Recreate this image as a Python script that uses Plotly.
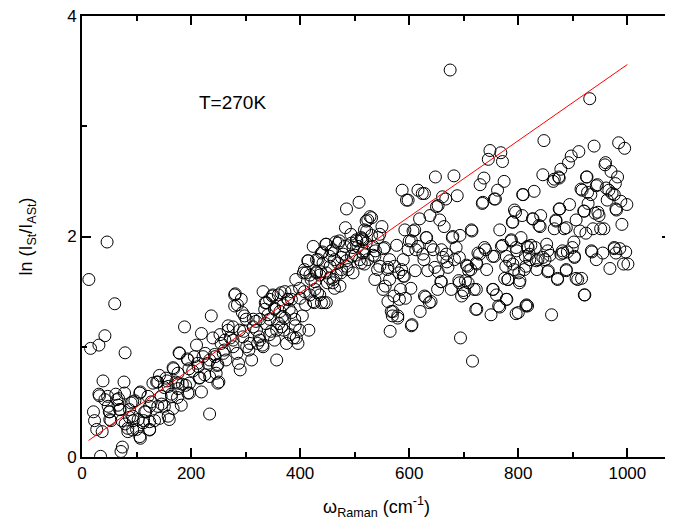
import plotly.graph_objects as go

# ln(I_St/I_ASt) vs Raman shift, T=270K as (omega, ln ratio)
pts_low = [
    (12.6, 1.61), (15.7, 0.985), (31, 1.015), (46, 1.95), (60, 1.39), (42, 1.10), (38.5, 0.69),
    (79, 0.945), (77, 0.68), (34, 0.006), (71.5, 0.05), (74, 0.09), (21, 0.41), (23, 0.33),
    (27, 0.25), (37, 0.23), (31, 0.57), (42, 0.52), (50, 0.41), (53, 0.33), (62, 0.57),
    (67, 0.53), (70, 0.43), (73, 0.33), (79, 0.30), (84, 0.23), (87, 0.36), (94, 0.33),
    (97, 0.51), (100, 0.25), (107, 0.17), (107, 0.59), (113, 0.33), (117, 0.41), (124, 0.25),
    (127, 0.50), (133, 0.33), (137, 0.68), (142, 0.74), (146, 0.48), (151, 0.63), (156, 0.69),
    (160, 0.34), (164, 0.57), (168, 0.80), (172, 0.68), (175, 0.54), (178, 0.945), (184, 0.66),
    (188, 1.18), (190, 0.65), (196, 0.80), (193, 0.89), (197, 0.58),
    (32, 0.555), (47, 0.55), (64, 0.52), (51, 0.41), (51, 0.34), (69, 0.43), (78, 0.58),
    (93, 0.50), (106, 0.58), (121, 0.55), (130, 0.67), (139, 0.68), (154, 0.715), (167, 0.81),
    (176, 0.76), (176, 0.67), (179, 0.94), (194, 0.88), (197, 0.67), (194, 0.58), (176, 0.62),
    (164, 0.55), (158, 0.64), (145, 0.55), (139, 0.46), (151, 0.46), (167, 0.44), (124, 0.46),
    (115, 0.41), (103, 0.34), (93, 0.37), (112, 0.31), (124, 0.32), (142, 0.35), (158, 0.37),
    (84, 0.26), (93, 0.245), (106, 0.185), (124, 0.245), (90, 0.49), (87, 0.43), (66, 0.47),
    (48, 0.46), (182, 0.47),
]

pts_mid = [
    (206, 0.91), (210, 1.015), (213, 0.82), (219, 1.12), (219, 0.59), (216, 0.72), (226, 0.94),
    (231, 0.85), (234, 0.39), (237, 1.28), (240, 1.08), (244, 0.91), (248, 0.83), (251, 0.68),
    (253, 1.11), (259, 0.94), (264, 0.88), (268, 1.19), (272, 1.08), (277, 1.00), (281, 1.48),
    (284, 0.94), (285, 1.38), (287, 0.85), (290, 0.79), (292, 1.43), (294, 1.31), (298, 1.28),
    (296, 1.14), (302, 1.00), (306, 0.97), (311, 0.88), (314, 1.18), (319, 1.23), (322, 1.03),
    (325, 1.09), (331, 1.015), (332, 1.50), (336, 1.40), (337, 1.21), (341, 1.29), (347, 1.14),
    (349, 1.46), (353, 1.34), (357, 0.88), (361, 1.21), (365, 1.49), (367, 1.27), (370, 1.15),
    (377, 1.43), (380, 1.34), (384, 1.43), (388, 1.08), (391, 1.19), (392, 1.61), (396, 1.03),
    (203, 0.78), (212, 0.85), (222, 0.91), (234, 0.88), (243, 0.93), (249, 0.84), (246, 0.76),
    (261, 0.97), (255, 1.03), (215, 0.715), (225, 0.745), (234, 0.73), (249, 0.67),
    (384, 1.50), (378, 1.43), (369, 1.38), (363, 1.32), (353, 1.35), (344, 1.43), (338, 1.40),
    (335, 1.34), (350, 1.47), (360, 1.47), (372, 1.50), (384, 1.31), (390, 1.25), (399, 1.15),
    (393, 1.08), (372, 1.26), (366, 1.18), (357, 1.15), (344, 1.25), (326, 1.25), (320, 1.15),
    (314, 1.25), (301, 1.25), (289, 1.15), (277, 1.18), (268, 1.15), (262, 1.06), (277, 1.06),
    (295, 1.09), (308, 1.03), (326, 1.06), (344, 1.11), (353, 1.06), (332, 1.00), (381, 1.11),
    (375, 1.03), (280, 1.47), (280, 1.37), (399, 1.53),
]

pts_band = [
    (400, 1.44), (404, 1.28), (406, 1.67), (410, 1.38), (414, 1.78), (416, 1.15), (420, 1.61),
    (424, 1.91), (426, 1.40), (430, 1.67), (432, 1.49), (433, 1.79), (438, 1.68), (441, 1.86),
    (444, 1.40), (447, 1.93), (450, 1.58), (455, 1.73), (457, 1.87), (461, 1.61), (465, 1.95),
    (469, 1.76), (472, 1.96), (475, 1.67), (479, 1.84), (483, 2.08), (485, 2.25), (488, 1.70),
    (493, 2.02), (497, 1.90),
    (415, 1.78), (408, 1.70), (411, 1.67), (418, 1.65), (430, 1.68), (427, 1.59), (436, 1.65),
    (448, 1.67), (454, 1.62), (460, 1.58), (466, 1.65), (476, 1.70), (485, 1.73), (497, 1.67),
    (473, 1.55), (463, 1.53), (408, 1.50), (418, 1.47), (424, 1.41), (439, 1.40), (448, 1.40),
    (436, 1.47), (427, 1.52), (470, 1.94), (482, 1.91), (494, 1.94), (448, 1.93), (460, 1.88),
    (439, 1.85), (430, 1.79), (442, 1.76), (454, 1.82), (463, 1.79), (476, 1.81), (485, 1.78),
    (494, 1.82),
    (501, 1.83), (504, 1.96), (508, 2.31), (512, 1.76), (514, 1.98), (518, 1.87), (522, 2.05),
    (524, 2.15), (528, 2.18), (531, 2.01), (534, 1.83), (538, 1.87), (542, 1.70), (546, 2.02),
    (550, 2.09), (553, 1.89), (521, 2.14), (503, 1.97), (515, 1.97), (506, 1.91), (515, 1.85),
    (509, 1.79), (518, 1.75), (531, 2.17), (518, 2.06), (512, 1.99), (521, 1.94), (534, 1.91),
    (543, 1.99), (555, 1.90), (537, 1.82), (524, 1.79), (546, 1.73), (561, 1.72), (564, 1.79),
]

pts_high = [
    (556, 1.55), (560, 1.70), (564, 1.61), (561, 1.41), (567, 1.32), (569, 1.28), (572, 1.46),
    (565, 1.14), (577, 1.92), (579, 1.28), (581, 1.67), (584, 1.52), (587, 2.42), (589, 1.79),
    (591, 1.64), (593, 1.44), (595, 2.33), (598, 1.88), (600, 1.96), (603, 1.53), (605, 1.20),
    (607, 2.05), (611, 1.69), (612, 1.88), (616, 2.42), (619, 2.16), (620, 1.32), (624, 2.39),
    (627, 1.79), (630, 1.45), (632, 1.99), (634, 1.69), (638, 2.19), (640, 1.41), (644, 1.88),
    (648, 2.54), (650, 2.27), (652, 1.52), (653, 1.68), (656, 2.15), (658, 1.59), (661, 2.36),
    (664, 2.09), (667, 2.34), (669, 1.77), (671, 1.72), (675, 3.51), (677, 1.52), (679, 1.99),
    (682, 2.55), (683, 1.79), (686, 1.90), (688, 2.37), (691, 1.60), (693, 2.01), (694, 1.08),
    (696, 1.46), (699, 1.51), (703, 1.60), (707, 1.73), (709, 1.69), (713, 1.70), (715, 2.05),
    (716, 0.87), (719, 1.52), (722, 1.34), (724, 1.75), (729, 1.84), (730, 2.47), (734, 2.30),
    (737, 2.53), (740, 1.88), (742, 1.70), (745, 2.70), (748, 2.78), (750, 1.29), (754, 1.52),
    (756, 1.82), (758, 2.34), (760, 1.47), (762, 2.42), (764, 1.37), (768, 2.76), (771, 2.68),
    (774, 2.50), (771, 1.92), (777, 1.73), (779, 1.43), (781, 1.61), (784, 1.78), (787, 1.96),
    (789, 2.13), (792, 1.70), (795, 2.22), (797, 1.87), (800, 1.31), (801, 1.67), (803, 1.60),
    (598, 2.33), (628, 2.39), (653, 2.28), (631, 1.99), (640, 1.91), (659, 1.88), (668, 1.84),
    (692, 1.81), (705, 1.74), (723, 1.76), (738, 1.90), (753, 1.82), (726, 1.85), (766, 2.06),
    (769, 1.91), (778, 1.82), (756, 2.34), (735, 2.31), (592, 2.06), (610, 2.06), (616, 1.91),
    (625, 1.84), (647, 1.72), (662, 1.81), (586, 1.70), (573, 1.73), (604, 1.96), (537, 1.61),
    (552, 1.52), (570, 1.32), (579, 1.26), (604, 1.19), (637, 1.40), (628, 1.46), (659, 1.59),
    (692, 1.58), (708, 1.58), (723, 1.52), (701, 1.49), (724, 1.34), (766, 1.36), (753, 1.52),
    (775, 1.62), (589, 1.64), (582, 1.43), (680, 2.00), (714, 2.06),
]

pts_top = [
    (805, 1.99), (807, 2.19), (809, 2.38), (811, 1.70), (813, 1.82), (815, 1.38), (817, 1.37),
    (818, 1.90), (821, 1.79), (823, 1.92), (826, 2.16), (829, 2.41), (831, 1.90), (834, 1.70),
    (836, 1.79), (838, 2.10), (841, 2.19), (845, 2.56), (847, 2.87), (849, 1.79), (852, 1.93),
    (855, 1.69), (858, 1.83), (861, 1.29), (864, 2.50), (866, 2.07), (869, 2.15), (872, 1.61),
    (874, 2.54), (876, 2.25), (878, 2.61), (881, 1.87), (884, 2.07), (888, 1.70), (890, 1.86),
    (892, 2.67), (894, 2.29), (897, 2.73), (899, 1.90), (902, 1.95), (903, 1.81), (906, 2.15),
    (909, 1.61), (911, 2.77), (913, 2.05), (916, 1.62), (917, 2.42), (920, 2.23), (922, 1.47),
    (925, 2.54), (928, 2.30), (931, 3.25), (933, 2.38), (935, 1.86), (937, 2.07), (939, 2.82),
    (941, 2.21), (943, 1.79), (945, 2.47), (948, 2.19), (951, 2.07), (955, 1.85), (957, 2.07),
    (959, 2.65), (960, 2.67), (963, 2.33), (966, 2.42), (968, 1.71), (970, 2.59), (972, 2.39),
    (976, 1.89), (978, 2.48), (980, 2.24), (982, 2.54), (984, 2.85), (986, 1.89), (988, 2.32),
    (990, 2.11), (993, 1.75), (995, 2.80), (997, 1.86), (999, 2.29), (1001, 1.75),
    (866, 2.52), (875, 2.53), (926, 2.54), (943, 2.46), (961, 2.44), (915, 2.43), (927, 2.40),
    (976, 2.38), (979, 2.25), (808, 2.38), (793, 2.24), (790, 2.13), (827, 2.16), (840, 2.09),
    (875, 2.25), (869, 2.14), (888, 2.08), (921, 2.23), (946, 2.22), (924, 2.03), (787, 1.97),
    (796, 1.90), (817, 1.91), (820, 1.84), (854, 1.87), (882, 1.85), (934, 1.87), (976, 1.90),
    (790, 1.75), (781, 1.61), (802, 1.58), (814, 1.73), (833, 1.78), (854, 1.68), (872, 1.62),
    (888, 1.69), (906, 1.62), (921, 1.47), (903, 1.82), (979, 1.85), (778, 1.43), (796, 1.30),
    (814, 1.37), (845, 1.81), (878, 1.84),
]

# red straight-line fit
fit_x = [12, 1000]
fit_y = [0.15, 3.56]

all_pts = pts_low + pts_mid + pts_band + pts_high + pts_top
omega = [p[0] for p in all_pts]
lnr = [p[1] for p in all_pts]

fig = go.Figure()
fig.add_trace(go.Scatter(x=omega, y=lnr, mode='markers', hoverinfo='skip',
                         marker=dict(symbol='circle-open', size=12, color='black', line=dict(width=1))))
fig.add_trace(go.Scatter(x=fit_x, y=fit_y, mode='lines', hoverinfo='skip',
                         line=dict(color='red', width=1)))

fig.add_annotation(x=211, y=3.22, xref='x', yref='y', text='T=270K', showarrow=False,
                   xanchor='left', yanchor='middle', font=dict(size=19, color='black'))

axis_common = dict(showline=True, linewidth=2, linecolor='black', mirror='ticks',
                   ticks='inside', ticklen=9, tickwidth=1.5, tickcolor='black',
                   showgrid=False, zeroline=False, automargin=False, ticklabeloverflow='allow')

fig.update_xaxes(range=[0, 1080], tick0=0, dtick=200,
                 minor=dict(ticks='inside', tick0=0, dtick=100, ticklen=5, tickwidth=1.5, tickcolor='black'),
                 title=dict(text='ω<sub>Raman</sub> (cm<sup>-1</sup>)', font=dict(size=18), standoff=18),
                 **axis_common)
fig.update_yaxes(range=[0, 4], tick0=0, dtick=2,
                 minor=dict(ticks='inside', tick0=0, dtick=1, ticklen=5, tickwidth=1.5, tickcolor='black'),
                 title=dict(text='ln (I<sub>St</sub>/I<sub>ASt</sub>)', font=dict(size=18), standoff=30),
                 **axis_common)

# the page adds an 8px body margin, so the figure is drawn 8px smaller
fig.update_layout(width=665, height=521, showlegend=False,
                  plot_bgcolor='white', paper_bgcolor='white',
                  font=dict(family='Liberation Sans, Arial, sans-serif', size=17, color='black'),
                  margin=dict(l=74, r=2, t=8, b=72))

fig.write_html("out.html")
